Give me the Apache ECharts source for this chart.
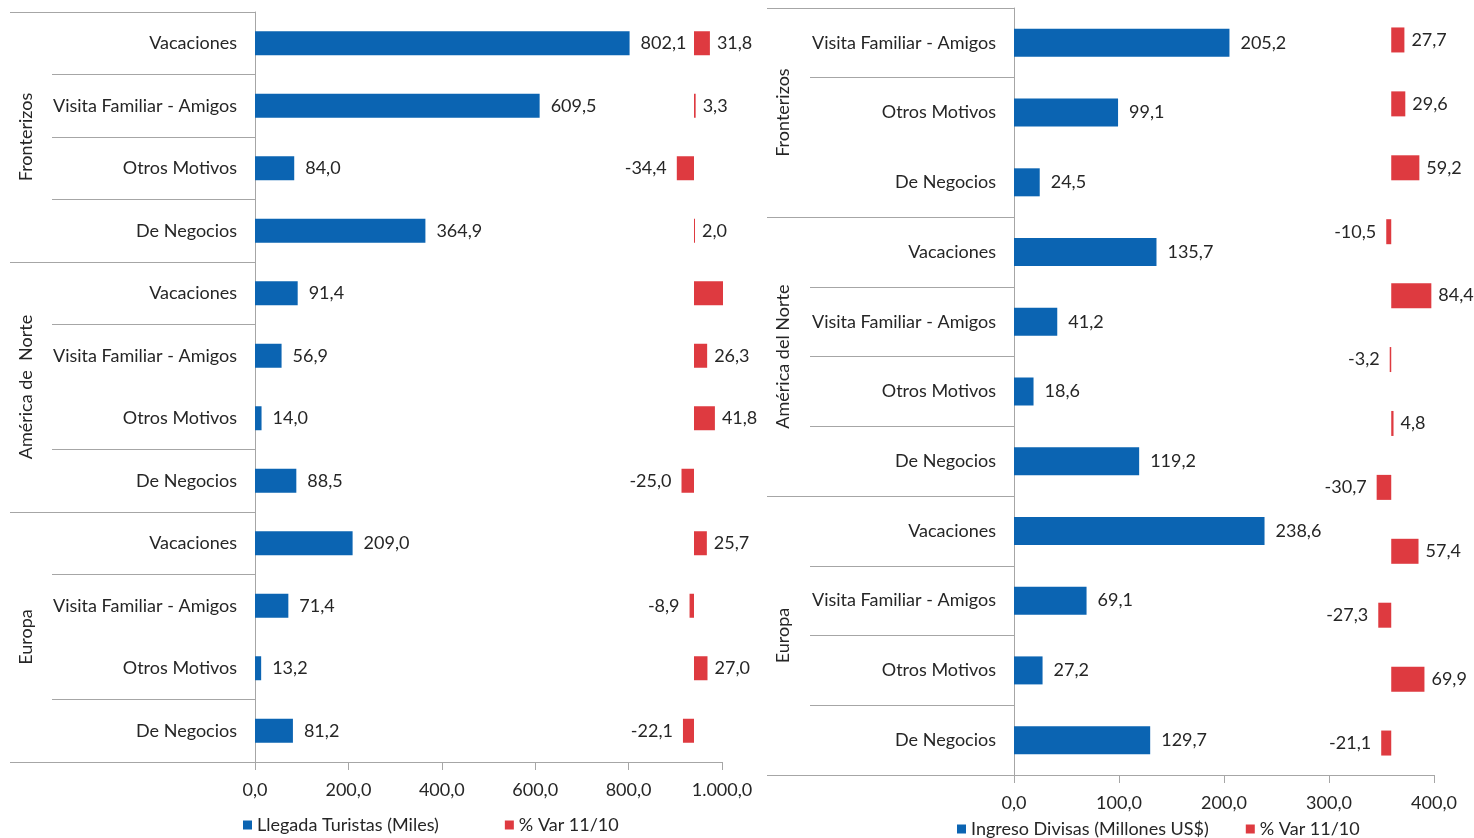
<!DOCTYPE html>
<html>
<head>
<meta charset="utf-8">
<script src="https://cdn.jsdelivr.net/npm/echarts@6/dist/echarts.min.js"></script>
<style>
  html, body { margin: 0; padding: 0; background: #fff; }
  #chart { width: 1474px; height: 838px; }
</style>
</head>
<body>
<div id="chart"></div>
<script>
// --- izquierda: llegada de turistas ---
const leftCategories = ['Vacaciones', 'Visita Familiar - Amigos', 'Otros Motivos', 'De Negocios',
  'Vacaciones', 'Visita Familiar - Amigos', 'Otros Motivos', 'De Negocios',
  'Vacaciones', 'Visita Familiar - Amigos', 'Otros Motivos', 'De Negocios']
const leftGroups = ['Fronterizos', 'América de  Norte', 'Europa']
const leftGroupSizes = [4, 4, 4]
const leftMissingSeparators = [6, 10] // lineas que no aparecen en el original
const leftArrivals = [802.1, 609.5, 84.0, 364.9, 91.4, 56.9, 14.0, 88.5, 209.0, 71.4, 13.2, 81.2]
const leftVar = [31.8, 3.3, -34.4, 2.0, 58.0, 26.3, 41.8, -25.0, 25.7, -8.9, 27.0, -22.1]
const leftVarUnlabeled = [4]
const leftTicks = [0, 200, 400, 600, 800, 1000]

// --- derecha: ingreso de divisas ---
const rightCategories = ['Visita Familiar - Amigos', 'Otros Motivos', 'De Negocios',
  'Vacaciones', 'Visita Familiar - Amigos', 'Otros Motivos', 'De Negocios',
  'Vacaciones', 'Visita Familiar - Amigos', 'Otros Motivos', 'De Negocios']
const rightGroups = ['Fronterizos', 'América del Norte', 'Europa']
const rightGroupSizes = [3, 4, 4]
const rightMissingSeparators = [2]
const rightIncome = [205.2, 99.1, 24.5, 135.7, 41.2, 18.6, 119.2, 238.6, 69.1, 27.2, 129.7]
// la serie % var tiene 12 valores (eje secundario propio)
const rightVar = [27.7, 29.6, 59.2, -10.5, 84.4, -3.2, 4.8, -30.7, 57.4, -27.3, 69.9, -21.1]
const rightTicks = [0, 100, 200, 300, 400]

const BLUE = '#0B64B2'
const RED = '#DE3A40'
const LINE = '#A6A6A6'
const TEXT = '#262626'
const FONT = 'Lato'
const FS = 18

function fmt(v) {
  const parts = Math.abs(v).toFixed(1).split('.')
  const int = parts[0].replace(/\B(?=(\d{3})+(?!\d))/g, '.')
  return (v < 0 ? '-' : '') + int + ',' + parts[1]
}

const txt = { color: TEXT, fontFamily: FONT, fontSize: FS }

function valueAxis(gridIndex, ticks) {
  return {
    type: 'value', gridIndex,
    min: ticks[0], max: ticks[ticks.length - 1], interval: ticks[1] - ticks[0],
    axisLine: { show: true, lineStyle: { color: LINE } },
    axisTick: { show: true, length: 8, lineStyle: { color: LINE } },
    axisLabel: { ...txt, margin: 19, formatter: fmt },
    splitLine: { show: false },
  }
}
function hiddenValue(gridIndex, min, max) {
  return { type: 'value', gridIndex, show: false, min, max, position: 'top' }
}
function catAxis(gridIndex, data) {
  return {
    type: 'category', gridIndex, data, inverse: true,
    axisLine: { show: true, lineStyle: { color: LINE } },
    axisTick: { show: false },
    axisLabel: { ...txt, margin: 18, interval: 0 },
  }
}

// separadores entre filas (columna de motivos)
function innerSepAxis(gridIndex, rows, missing) {
  const bounds = []
  for (let i = 0; i <= rows; i++) if (!missing.includes(i)) bounds.push(i)
  return {
    type: 'value', gridIndex, min: 0, max: rows, inverse: true,
    axisLine: { show: false },
    axisTick: { show: false, customValues: bounds },
    axisLabel: { show: false },
    splitLine: { show: true, lineStyle: { color: LINE, width: 1 } },
  }
}
// separadores entre grupos + nombre del grupo girado
function groupAxis(gridIndex, groups, sizes) {
  const bounds = [0]
  const mids = []
  sizes.forEach((s) => {
    const start = bounds[bounds.length - 1]
    mids.push(start + s / 2)
    bounds.push(start + s)
  })
  const rows = bounds[bounds.length - 1]
  return {
    type: 'value', gridIndex, min: 0, max: rows, inverse: true,
    axisLine: { show: false },
    axisTick: { show: false, customValues: bounds },
    axisLabel: {
      ...txt, inside: true, rotate: 90, margin: 7, customValues: mids,
      formatter: (v) => groups[mids.indexOf(v)] || '',
    },
    splitLine: { show: true, lineStyle: { color: LINE, width: 1 } },
  }
}
function varData(values, unlabeled) {
  return values.map((v, i) => ({
    value: v,
    label: {
      show: !(unlabeled || []).includes(i),
      position: v < 0 ? 'left' : 'right',
      distance: v < 0 ? 10 : 7,
    },
  }))
}

const chart = echarts.init(document.getElementById('chart'))
chart.setOption({
  backgroundColor: '#fff',
  animation: false,
  grid: [
    { left: 255, top: 12, width: 467, height: 750 },
    { left: 52, top: 12, width: 203, height: 750 },
    { left: 10, top: 12, width: 245, height: 750 },
    { left: 1014, top: 8, width: 420, height: 767 },
    { left: 810, top: 8, width: 204, height: 767 },
    { left: 767, top: 8, width: 247, height: 767 },
  ],
  xAxis: [
    valueAxis(0, leftTicks),
    hiddenValue(0, -878, 56),
    { type: 'value', gridIndex: 1, show: false },
    { type: 'value', gridIndex: 2, show: false },
    valueAxis(3, rightTicks),
    hiddenValue(3, -794, 90),
    { type: 'value', gridIndex: 4, show: false },
    { type: 'value', gridIndex: 5, show: false },
  ],
  yAxis: [
    catAxis(0, leftCategories),
    innerSepAxis(1, leftCategories.length, leftMissingSeparators),
    groupAxis(2, leftGroups, leftGroupSizes),
    catAxis(3, rightCategories),
    { type: 'category', gridIndex: 3, show: false, inverse: true, data: rightVar.map((_, i) => i), position: 'right' },
    innerSepAxis(4, rightCategories.length, rightMissingSeparators),
    groupAxis(5, rightGroups, rightGroupSizes),
  ],
  legend: [
    {
      left: 238, top: 811, itemWidth: 9, itemHeight: 9, itemGap: 66, icon: 'rect',
      textStyle: txt, selectedMode: false,
      data: ['Llegada Turistas (Miles)', '% Var 11/10'],
    },
    {
      left: 952, top: 815, itemWidth: 9, itemHeight: 9, itemGap: 37, icon: 'rect',
      textStyle: txt, selectedMode: false,
      data: ['Ingreso Divisas (Millones US$)', '% Var 11/10'],
    },
  ],
  series: [
    {
      name: 'Llegada Turistas (Miles)', type: 'bar', xAxisIndex: 0, yAxisIndex: 0,
      data: leftArrivals, barWidth: 24, barGap: '-100%',
      itemStyle: { color: BLUE },
      label: { show: true, position: 'right', distance: 11, ...txt, formatter: (p) => fmt(p.value) },
    },
    {
      name: '% Var 11/10', type: 'bar', xAxisIndex: 1, yAxisIndex: 0,
      data: varData(leftVar, leftVarUnlabeled), barWidth: 24, barGap: '-100%', clip: false,
      itemStyle: { color: RED },
      label: { ...txt, formatter: (p) => fmt(p.value) },
    },
    {
      name: 'Ingreso Divisas (Millones US$)', type: 'bar', xAxisIndex: 4, yAxisIndex: 3,
      data: rightIncome, barWidth: 28,
      itemStyle: { color: BLUE },
      label: { show: true, position: 'right', distance: 11, ...txt, formatter: (p) => fmt(p.value) },
    },
    {
      name: '% Var 11/10', type: 'bar', xAxisIndex: 5, yAxisIndex: 4,
      data: varData(rightVar), barWidth: 25, clip: false,
      itemStyle: { color: RED },
      label: { ...txt, formatter: (p) => fmt(p.value) },
    },
  ],
})
</script>
</body>
</html>
